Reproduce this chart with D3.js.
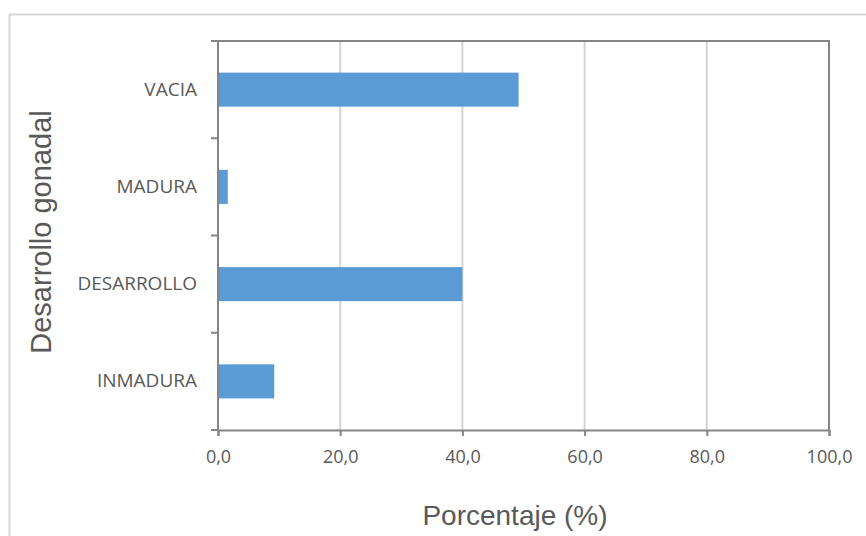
<!DOCTYPE html>
<html><head><meta charset="utf-8">
<script src="https://cdn.jsdelivr.net/npm/d3@7"></script>
<style>body{margin:0;background:#fff}svg{display:block}</style>
</head><body>
<script>
const categories = ["VACIA", "MADURA", "DESARROLLO", "INMADURA"];
const values = [49.2, 1.6, 40.0, 9.2];
const xTicks = [0, 20, 40, 60, 80, 100];
const xTitle = "Porcentaje (%)";
const yTitle = "Desarrollo gonadal";

const W = 866, H = 536;
const m = {left: 218, right: 829, top: 41, bottom: 430};
const svg = d3.select("body").append("svg").attr("width", W).attr("height", H);

// outer chart border
svg.append("path").attr("d", `M9.5,${H} V14.5 H${W}`).attr("fill", "none")
  .attr("stroke", "#d6d6d6").attr("stroke-width", 2);

const x = d3.scaleLinear().domain([0, 100]).range([m.left, m.right]);
const y = d3.scaleBand().domain(categories).range([m.top, m.bottom])
  .paddingInner(0.65).paddingOuter(0.325);

const fmt = v => d3.format(".1f")(v).replace(".", ",");

// gridlines
svg.append("g").selectAll("line").data(xTicks.filter(t => t > 0 && t < 100)).join("line")
  .attr("x1", d => x(d)).attr("x2", d => x(d)).attr("y1", m.top).attr("y2", m.bottom)
  .attr("stroke", "#d4d4d4").attr("stroke-width", 2);

// bars
svg.append("g").selectAll("rect").data(categories).join("rect")
  .attr("x", x(0)).attr("y", d => y(d))
  .attr("width", (d, i) => x(values[i]) - x(0)).attr("height", y.bandwidth())
  .attr("fill", "#5b9bd5");

// frame top & right
svg.append("path").attr("d", `M${m.left},${m.top} H${m.right} V${m.bottom}`)
  .attr("fill", "none").attr("stroke", "#858585").attr("stroke-width", 2);

// x axis
const xAxis = d3.axisBottom(x).tickValues(xTicks).tickFormat(fmt).tickSize(6).tickPadding(14);
const gx = svg.append("g").attr("transform", `translate(0,${m.bottom})`).call(xAxis);
gx.select(".domain").attr("stroke", "#858585").attr("stroke-width", 2);
gx.selectAll(".tick line").attr("stroke", "#858585").attr("stroke-width", 2);
gx.selectAll("text").attr("fill", "#595959").attr("font-family", "Open Sans")
  .attr("font-size", 18);

// y axis: labels
const yAxis = d3.axisLeft(y).tickSize(0).tickPadding(21);
const gy = svg.append("g").attr("transform", `translate(${m.left},0)`).call(yAxis);
gy.select(".domain").remove();
gy.selectAll("text").attr("fill", "#595959").attr("font-family", "Open Sans")
  .attr("font-size", 19);
// category boundary ticks
const bounds = d3.range(categories.length + 1).map(i => m.top + i * y.step());
svg.append("g").selectAll("line").data(bounds).join("line")
  .attr("x1", m.left - 7).attr("x2", m.left).attr("y1", d => d).attr("y2", d => d)
  .attr("stroke", "#858585").attr("stroke-width", 2);
svg.append("line").attr("x1", m.left).attr("x2", m.left).attr("y1", m.top - 1).attr("y2", m.bottom + 1)
  .attr("stroke", "#858585").attr("stroke-width", 2);

// titles
svg.append("text").attr("x", 515).attr("y", 525).attr("text-anchor", "middle")
  .attr("font-family", "Liberation Sans, Arial").attr("font-size", 28).attr("fill", "#595959")
  .text(xTitle);
svg.append("text").attr("transform", "translate(51,232) rotate(-90)").attr("text-anchor", "middle")
  .attr("font-family", "Liberation Sans, Arial").attr("font-size", 29).attr("fill", "#595959")
  .text(yTitle);
</script>
</body></html>
